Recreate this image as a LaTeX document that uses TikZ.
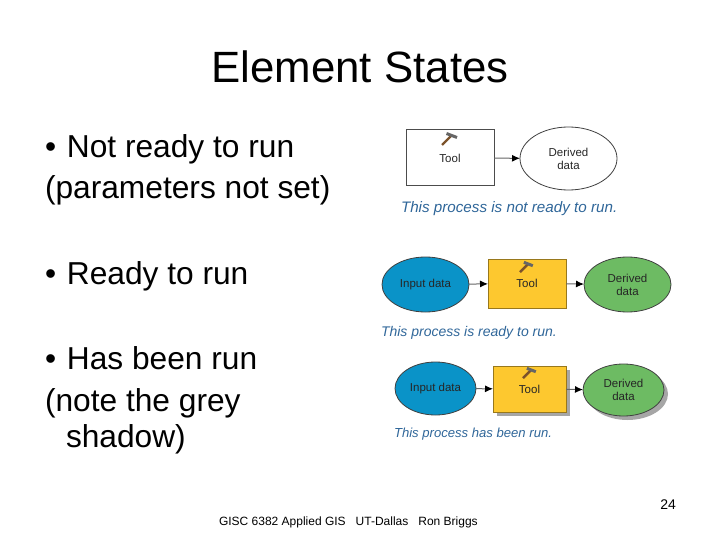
\documentclass[tikz,border=0pt]{standalone}
\usepackage{fontspec}
\setmainfont{Liberation Sans}
\usepackage[dvipsnames]{xcolor}
\usetikzlibrary{
	positioning,
	shapes.geometric,
	shadows,
	arrows.meta
}
\definecolor{toolyellow}{HTML}{FDC82F}
\definecolor{inputblue}{HTML}{0A93C8}
\definecolor{derivedgreen}{HTML}{6DBB63}
\definecolor{captionblue}{HTML}{2F6699}
\tikzset{
	x=1pt,y=-1pt,
	every node/.style={inner sep=0pt,outer sep=0pt},
	bullet/.style={anchor=base west,font=\fontsize{31.7}{31.7}\selectfont},
	caption/.style={anchor=base west,text=captionblue,font=\itshape\fontsize{#1}{#1}\selectfont},
	tool/.style={draw=#1!60!black,rectangle,line width=1pt},
	data/.style={draw=black!75,ellipse,line width=.8pt,align=center},
	small/.style={font=\fontsize{11.5}{13}\selectfont,text=black!85},
	link/.style={-{Latex[length=8pt,width=7pt,black]},black!60,line width=1pt},
	ranshadow/.style={drop shadow={shadow xshift=4pt,shadow yshift=-4pt,fill=black!35,opacity=1}},
	pics/hammer/.style={code={
		\draw[line width=2.4pt,brown!65!black] (-7,6) -- (2,-3);
		\draw[line width=3pt,black!60] (-2.5,-5.5) -- (8,-1.5);
	}}
}
\begin{document}
\begin{tikzpicture}
	\useasboundingbox (0,0) rectangle (720,540);
	\node[anchor=base,font=\fontsize{43.8}{43.8}\selectfont] (title) at (360,83) {Element States};

	\node[bullet] (notready) at (45,158) {•\hspace{2pt} Not ready to run};
	\node[bullet] (notready2) at (45,199) {(parameters not set)};
	\node[bullet] (ready) at (45,284) {•\hspace{2pt} Ready to run};
	\node[bullet] (hasrun) at (45,369) {•\hspace{2pt} Has been run};
	\node[bullet] (hasrun2) at (45,411) {(note the grey};
	\node[bullet] (hasrun3) at (66,447) {shadow)};

	% not ready
	\draw
		node[tool=black,draw=black!70,minimum width=88pt,minimum height=56pt,small] (tool1) at (450,158) {Tool}
		node[data,small,minimum width=97pt,minimum height=63pt] (derived1) at (568.5,158.5) {Derived\\data}

		(tool1) edge[link] (derived1)
	;
	\pic at (449,139) {hammer};
	\node[caption=15.2] (cap1) at (401,213) {This process is not ready to run.};

	% ready
	\draw
		node[tool=toolyellow,fill=toolyellow,minimum width=78pt,minimum height=49pt,small] (tool2) at (527,283.5) {Tool}
		node[data,fill=inputblue,small,minimum width=87pt,minimum height=55pt] (input2) at (425.5,284.5) {Input data}
		node[data,fill=derivedgreen,small,minimum width=87pt,minimum height=55pt] (derived2) at (627.5,284.5) {Derived\\data}

		(input2) edge[link] (tool2)
		(tool2) edge[link] (derived2)
	;
	\pic[scale=.85] at (526,267) {hammer};
	\node[caption=14] (cap2) at (381,336) {This process is ready to run.};

	% has been run
	\draw
		node[tool=toolyellow,fill=toolyellow,ranshadow,minimum width=73pt,minimum height=46pt,small] (tool3) at (529.5,389) {Tool}
		node[data,fill=inputblue,small,minimum width=81pt,minimum height=53pt] (input3) at (435.5,388.5) {Input data}
		node[data,fill=derivedgreen,ranshadow,small,minimum width=81pt,minimum height=52pt] (derived3) at (623.5,390) {Derived\\data}

		(input3) edge[link] (tool3)
		(tool3) edge[link] (derived3)
	;
	\pic[scale=.85] at (529,373) {hammer};
	\node[caption=13.1] (cap3) at (394,437) {This process has been run.};

	\node[anchor=base east,font=\fontsize{14}{14}\selectfont] (page) at (676,509) {24};
	\node[anchor=base west,font=\fontsize{12}{12}\selectfont] (footer) at (219,525) {GISC 6382 Applied GIS\ \ \ UT-Dallas\ \ \ Ron Briggs};
\end{tikzpicture}
\end{document}
